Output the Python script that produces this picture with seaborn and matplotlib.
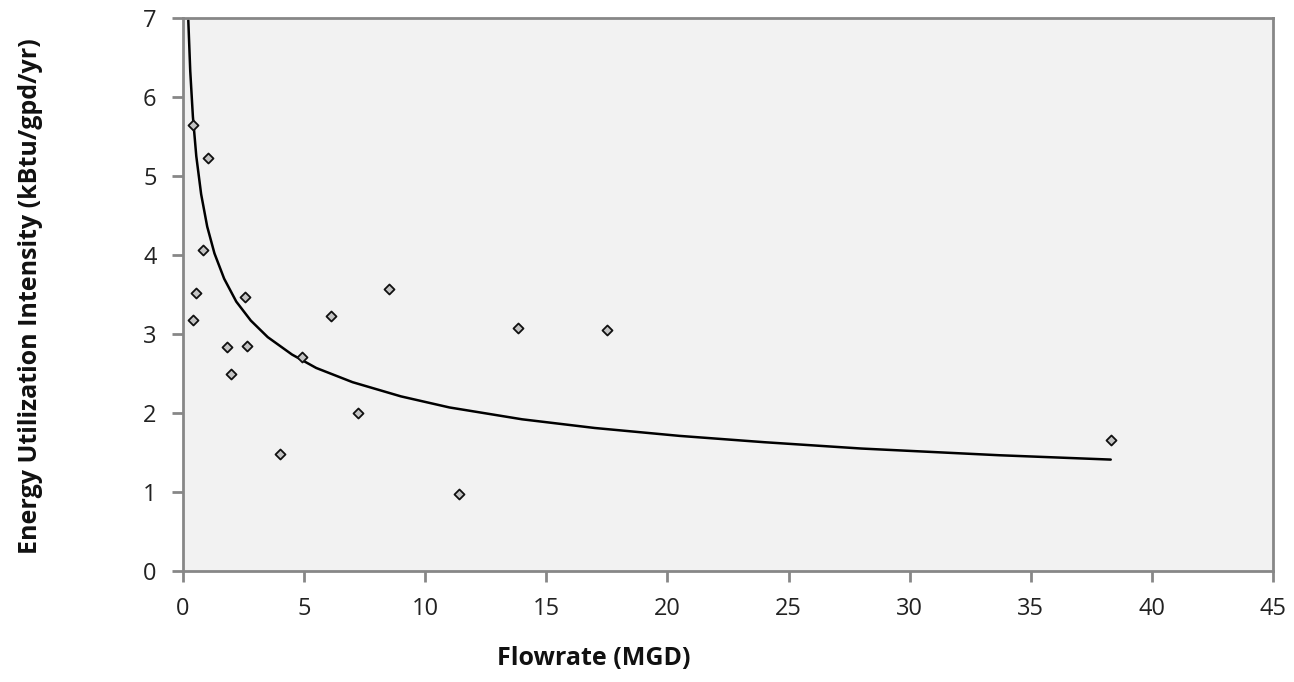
import numpy as np
import pandas as pd
import matplotlib
matplotlib.use("Agg")
import matplotlib.pyplot as plt
import seaborn as sns

# Measured plants: flowrate (MGD) vs energy utilization intensity
flow_mgd = [0.41, 1.05, 0.83, 0.54, 0.41, 2.57, 1.82, 2.65, 1.98, 4.91,
            6.1, 8.5, 7.23, 4.0, 11.4, 13.85, 17.5, 38.3]
eui = [5.65, 5.23, 4.06, 3.52, 3.18, 3.47, 2.84, 2.85, 2.49, 2.71,
       3.23, 3.57, 2.0, 1.48, 0.98, 3.08, 3.05, 1.66]

# Trend line
trend_x = [0.22, 0.3, 0.41, 0.55, 0.75, 1.0, 1.3, 1.7, 2.2, 2.8, 3.5, 4.5,
           5.5, 7, 9, 11, 14, 17, 20.5, 24, 28, 33.7, 38.3]
trend_y = [6.97, 6.33, 5.75, 5.25, 4.77, 4.36, 4.02, 3.70, 3.41, 3.17, 2.96, 2.74,
           2.57, 2.39, 2.21, 2.07, 1.92, 1.81, 1.71, 1.63, 1.55, 1.465, 1.41]

x_ticks = [0, 5, 10, 15, 20, 25, 30, 35, 40, 45]
y_ticks = [0, 1, 2, 3, 4, 5, 6, 7]

sns.set_theme(style="ticks", rc={
    "axes.facecolor": "#f2f2f2",
    "axes.edgecolor": "#878787",
    "axes.linewidth": 2.0,
    "xtick.color": "#878787",
    "ytick.color": "#878787",
    "xtick.labelcolor": "#222222",
    "ytick.labelcolor": "#222222",
})
plt.rcParams["font.family"] = ["Open Sans", "DejaVu Sans"]

fig = plt.figure(figsize=(12.94, 6.82), dpi=100)
ax = fig.add_axes([0.1414, 0.1628, 0.8424, 0.8108])

pts = pd.DataFrame({"flow": flow_mgd, "eui": eui})
trend = pd.DataFrame({"flow": trend_x, "eui": trend_y})

sns.lineplot(data=trend, x="flow", y="eui", sort=False, color="black",
             linewidth=1.8, ax=ax, zorder=2)
sns.scatterplot(data=pts, x="flow", y="eui", marker="D", s=26,
                facecolor="#c4c4c4", edgecolor="#111111", linewidth=1.3,
                ax=ax, zorder=3)

ax.set_xlim(0, 45)
ax.set_ylim(0, 7)
ax.set_xticks(x_ticks)
ax.set_yticks(y_ticks)
ax.tick_params(axis="both", direction="out", length=8, width=2, labelsize=17)
ax.tick_params(axis="x", pad=11)
ax.tick_params(axis="y", pad=11)

ax.set_xlabel("Flowrate (MGD)", fontsize=18, fontweight="bold")
ax.set_ylabel("Energy Utilization Intensity (kBtu/gpd/yr)", fontsize=18,
              fontweight="bold")
# labels sit where the original chart put them
ax.xaxis.set_label_coords(0.377, -0.135)
ax.yaxis.set_label_coords(-0.128, 0.497)
ax.xaxis.label.set_color("#111111")
ax.yaxis.label.set_color("#111111")

fig.savefig("out.png", dpi=100)
